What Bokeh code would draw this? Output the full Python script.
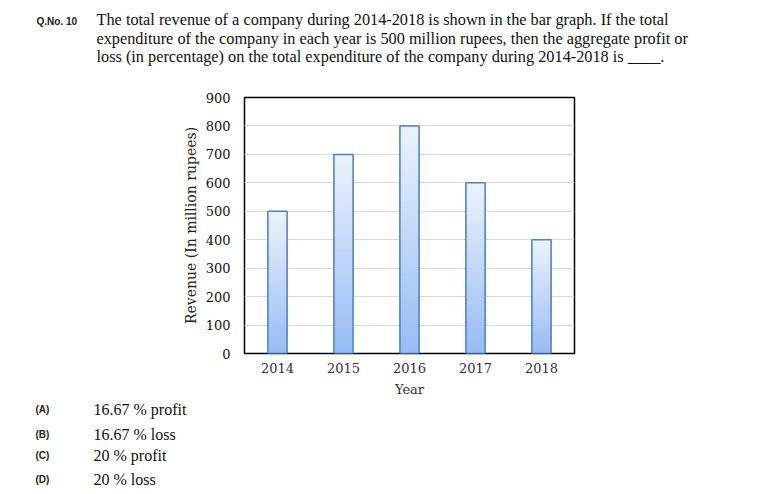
import numpy as np
from bokeh.plotting import figure
from bokeh.layouts import column
from bokeh.models import FactorRange, Range1d, FixedTicker
from bokeh.core.properties import value
from bokeh.embed import file_html
from bokeh.resources import INLINE

# ---- data ----
years = ["2014", "2015", "2016", "2017", "2018"]
revenue = [500, 700, 800, 600, 400]
y_ticks = [0, 100, 200, 300, 400, 500, 600, 700, 800, 900]
y_label = "Revenue (In million rupees)"
x_label = "Year"
q_number = "Q.No. 10"
question_lines = [
    "The total revenue of a company during 2014-2018 is shown in the bar graph. If the total",
    "expenditure of the company in each year is 500 million rupees, then the aggregate profit or",
    "loss (in percentage) on the total expenditure of the company during 2014-2018 is ____.",
]
option_keys = ["(A)", "(B)", "(C)", "(D)"]
option_texts = ["16.67 % profit", "16.67 % loss", "20 % profit", "20 % loss"]

W = 773
H_Q, H_C, H_O = 70, 330, 94
FL, FR = 244, 574
FT, FB = 97 - H_Q, 353 - H_Q   # frame top/bottom inside chart figure


def text_fig(h):
    f = figure(width=W, height=h, x_range=Range1d(0, W), y_range=Range1d(h, 0),
               x_axis_type=None, y_axis_type=None, output_backend="svg",
               toolbar_location=None, min_border=0, frame_align=False)
    f.outline_line_color = None
    f.background_fill_color = "white"
    f.border_fill_color = "white"
    f.grid.visible = False
    return f


# ---- question block ----
q = text_fig(H_Q)
q.text(x=[36], y=[21], text=[q_number], text_font=value("Liberation Sans"),
       text_font_style="bold", text_font_size=value("10px"), text_color="#222222",
       text_baseline="middle", text_align="left")
q.text(x=[96] * len(question_lines), y=[19 + 18.5 * i for i in range(len(question_lines))],
       text=question_lines, text_font=value("Liberation Serif"), text_font_size=value("16.3px"),
       text_color="#111111", text_baseline="middle", text_align="left")

# ---- chart ----
p = figure(width=W, height=H_C, x_range=FactorRange(*years), y_range=Range1d(0, 900),
           output_backend="svg", toolbar_location=None, frame_align=False,
           min_border_left=FL, min_border_right=W - FR, min_border_top=FT,
           min_border_bottom=H_C - FB)
p.background_fill_color = "white"
p.border_fill_color = "white"
p.outline_line_color = "black"
p.outline_line_width = 1.5

# gradient bars: stacked slices from bottom (darker) to top (lighter)
N = 48
bottom_rgb = np.array([0x98, 0xbc, 0xf3])
top_rgb = np.array([0xec, 0xf2, 0xfd])
xs, bots, tops, cols = [], [], [], []
for k in range(N):
    t = k / (N - 1)
    c = bottom_rgb + (top_rgb - bottom_rgb) * t
    col = "#%02x%02x%02x" % tuple(int(round(a)) for a in c)
    for yr, v in zip(years, revenue):
        xs.append(yr)
        bots.append(v * k / N)
        tops.append(v)
        cols.append(col)
p.vbar(x=xs, bottom=bots, top=tops, width=0.29, fill_color=cols, line_color=None)
p.vbar(x=years, top=revenue, bottom=0, width=0.29, fill_alpha=0,
       line_color="#4a7fd2", line_width=1.5)

p.xgrid.grid_line_color = None
p.ygrid.grid_line_color = "#d9d9d9"
p.ygrid.grid_line_width = 1
p.ygrid.ticker = FixedTicker(ticks=y_ticks)

p.yaxis.ticker = FixedTicker(ticks=y_ticks)
for ax in (p.xaxis[0], p.yaxis[0]):
    ax.axis_line_color = None
    ax.major_tick_line_color = None
    ax.minor_tick_line_color = None
    ax.major_tick_out = 0
    ax.major_tick_in = 0
    ax.major_label_text_font = "DejaVu Serif"
    ax.major_label_text_font_size = "13px"
    ax.major_label_text_color = "#111111"
    ax.axis_label_text_font = "DejaVu Serif"
    ax.axis_label_text_font_style = "normal"
p.yaxis.major_label_standoff = 14
p.xaxis.major_label_standoff = 9
p.xaxis.major_label_text_color = "#333333"
p.yaxis.axis_label = y_label
p.yaxis.axis_label_text_font_size = "14px"
p.yaxis.axis_label_text_color = "#222222"
p.yaxis.axis_label_standoff = 4
p.xaxis.axis_label = x_label
p.xaxis.axis_label_text_font_size = "13px"
p.xaxis.axis_label_text_color = "#333333"
p.xaxis.axis_label_standoff = 6

# ---- options block ----
o = text_fig(H_O)
oy = [409 - 400, 434 - 400, 455 - 400, 479 - 400]
o.text(x=[35] * len(option_keys), y=oy, text=option_keys, text_font=value("Liberation Sans"),
       text_font_style="bold", text_font_size=value("10px"), text_color="#222222",
       text_baseline="middle", text_align="left")
o.text(x=[93] * len(option_texts), y=oy, text=option_texts, text_font=value("Liberation Serif"),
       text_font_size=value("16px"), text_color="#111111",
       text_baseline="middle", text_align="left")

layout = column(q, p, o, spacing=0)
open("out.html", "w").write(file_html(layout, INLINE))
